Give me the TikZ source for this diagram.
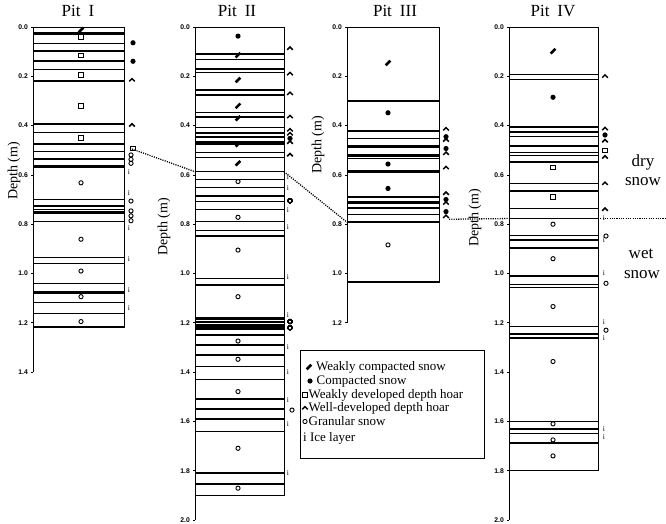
\documentclass[tikz,border=0pt]{standalone}
\usepackage{fontspec}
\setmainfont{Liberation Serif}
\newfontfamily\ticksans{Liberation Sans}
\newcounter{icec}
\newcommand\Ice[2]{\stepcounter{icec}\node[icest] (ice\arabic{icec}) at (#1,#2) {i};}
\begin{document}
\begin{tikzpicture}[x=1pt,y=-1pt,
  lay/.style={line width=1.5pt},
  thk/.style={line width=2.7pt},
  boxl/.style={line width=0.7pt},
  axl/.style={line width=0.7pt},
  dotl/.style={line width=1.3pt, dash pattern=on 1.1pt off 1.2pt},
  tick/.style={font=\ticksans\bfseries\fontsize{6.8}{7}\selectfont, inner sep=0pt, anchor=east},
  ttl/.style={font=\fontsize{17}{19}\selectfont, inner sep=0pt},
  dep/.style={font=\fontsize{14}{16}\selectfont, inner sep=0pt, rotate=90},
  icest/.style={font=\fontsize{7.5}{8}\selectfont, inner sep=0pt},
  leg/.style={font=\fontsize{13}{15}\selectfont, inner sep=0pt, anchor=west},
  big/.style={font=\fontsize{17}{19}\selectfont, inner sep=0pt},
  pwc/.pic={\fill[rotate=45] (-3.3pt,-1.3pt) rectangle (3.3pt,1.3pt);},
  pcs/.pic={\fill (0,0) circle (2.6pt);},
  pwd/.pic={\draw[line width=0.9pt] (-2.3pt,-2.3pt) rectangle (2.3pt,2.3pt);},
  pdh/.pic={\draw[line width=1.5pt] (-2.8pt,-1.4pt) -- (0,1.4pt) -- (2.8pt,-1.4pt);},
  pgs/.pic={\draw[line width=0.9pt] (0,0) circle (2.1pt);},
]
\fill[white] (0,0) rectangle (666,524);
\useasboundingbox (0,0) rectangle (666,524);

% ---------- Pit I ----------
\begin{scope}[shift={(33,27)}, y=-246.5pt]
\draw[axl] (0,0) -- (0,1.4);
\foreach \t [count=\k] in {0.0,0.2,0.4,0.6,0.8,1.0,1.2,1.4} {\draw[axl] (0,\t) -- (-2,\t); \node[tick] (pIt\k) at (-5,\t) {\t};}
\foreach \d in {0.066,0.097,0.138,0.172,0.219,0.427,0.475,0.506,0.535,0.700,0.740,0.790,0.936,0.959,1.040,1.118,1.162,1.218} \draw[lay] (0,\d) -- (91,\d);
\foreach \d in {0.026,0.393,0.567,0.726,0.753,1.078} \draw[thk] (0,\d) -- (91,\d);
\draw[boxl] (0,0) rectangle (91,1.218);
\pic at (48,0.012) {pwc};
\foreach \d in {0.040,0.116,0.195,0.320,0.449} \pic at (48,\d) {pwd};
\foreach \d in {0.632,0.861,0.990,1.094,1.195} \pic at (48,\d) {pgs};
\foreach \d in {0.064,0.139} \pic at (100,\d) {pcs};
\foreach \d in {0.215,0.398} \pic at (99,\d) {pdh};
\pic at (100,0.492) {pwd};
\foreach \d in {0.519,0.537,0.553,0.706,0.746,0.766,0.786} \pic at (98,\d) {pgs};
\foreach \d in {0.587,0.672,0.814,0.942,1.067,1.141} \Ice{96}{\d}
\coordinate (dIa) at (97,0.492);
\end{scope}

% ---------- Pit II ----------
\begin{scope}[shift={(195,27)}, y=-246.5pt]
\draw[axl] (0,0) -- (0,2.0);
\foreach \t [count=\k] in {0.0,0.2,0.4,0.6,0.8,1.0,1.2,1.4,1.6,1.8,2.0} {\draw[axl] (0,\t) -- (-2,\t); \node[tick] (pIIt\k) at (-5,\t) {\t};}
\foreach \d in {0.110,0.132,0.170,0.185,0.256,0.276,0.347,0.365,0.408,0.430,0.447,0.464,0.510,0.530,0.587,0.618,0.652,0.685,0.708,0.740,0.790,0.826,0.848,1.020,1.047,1.250,1.290,1.330,1.378,1.430,1.510,1.550,1.590,1.640,1.810,1.854,1.900} \draw[lay] (0,\d) -- (89,\d);
\foreach \d in {0.474,1.183,1.197,1.211,1.224} \draw[thk] (0,\d) -- (89,\d);
\draw[boxl] (0,0) rectangle (89,1.900);
\pic at (43,0.037) {pcs};
\foreach \d in {0.114,0.215,0.320,0.370,0.476,0.553} \pic at (43,\d) {pwc};
\foreach \d in {0.627,0.772,0.905,1.094,1.274,1.348,1.479,1.709,1.871} \pic at (43,\d) {pgs};
\foreach \d in {0.087,0.190,0.270,0.364,0.418,0.434,0.468,0.519} \pic at (95,\d) {pdh};
\pic at (95,0.452) {pcs};
\foreach \d in {0.607,0.655,0.742,0.810,1.013,1.168,1.300,1.400,1.513,1.610,1.810} \Ice{93}{\d}
\foreach \d in {0.705,1.195,1.220} \pic at (95,\d) {pgs};
\pic at (97,1.554) {pgs};
\coordinate (dIIa) at (0,0.587);
\coordinate (dIIb) at (89,0.587);
\end{scope}

% ---------- Pit III ----------
\begin{scope}[shift={(347,27)}, y=-246.5pt]
\draw[axl] (0,0) -- (0,1.2);
\foreach \t [count=\k] in {0.0,0.2,0.4,0.6,0.8,1.0,1.2} {\draw[axl] (0,\t) -- (-2,\t); \node[tick] (pIIIt\k) at (-5,\t) {\t};}
\foreach \d in {0.300,0.421,0.452,0.533,0.690,0.735,0.760,0.792,1.035} \draw[lay] (0,\d) -- (92,\d);
\foreach \d in {0.486,0.520,0.587,0.712} \draw[thk] (0,\d) -- (92,\d);
\draw[boxl] (0,0) rectangle (92,1.035);
\pic at (41,0.146) {pwc};
\foreach \d in {0.348,0.556,0.655} \pic at (41,\d) {pcs};
\pic at (41,0.884) {pgs};
\foreach \d in {0.414,0.459,0.513,0.571,0.675,0.715,0.769} \pic at (99,\d) {pdh};
\foreach \d in {0.445,0.493,0.700,0.749} \pic at (99,\d) {pcs};
\coordinate (dIIIa) at (0,0.792);
\coordinate (dIIIb) at (102,0.780);
\end{scope}

% ---------- Pit IV ----------
\begin{scope}[shift={(509,27)}, y=-246.5pt]
\draw[axl] (0,0) -- (0,2.0);
\foreach \t [count=\k] in {0.0,0.2,0.4,0.6,0.8,1.0,1.2,1.4,1.6,1.8,2.0} {\draw[axl] (0,\t) -- (-2,\t); \node[tick] (pIVt\k) at (-5,\t) {\t};}
\foreach \d in {0.192,0.213,0.405,0.425,0.445,0.482,0.509,0.522,0.547,0.635,0.665,0.737,0.777,0.845,0.865,0.896,1.010,1.045,1.057,1.216,1.245,1.262,1.600,1.630,1.650,1.688,1.800} \draw[lay] (0,\d) -- (89,\d);
\draw[boxl] (0,0) rectangle (89,1.800);
\pic at (44,0.098) {pwc};
\pic at (44,0.285) {pcs};
\foreach \d in {0.570,0.690} \pic at (44,\d) {pwd};
\foreach \d in {0.800,0.940,1.134,1.357,1.610,1.675,1.740} \pic at (44,\d) {pgs};
\foreach \d in {0.200,0.413,0.462,0.528,0.635,0.740} \pic at (96,\d) {pdh};
\pic at (96,0.438) {pcs};
\pic at (96,0.500) {pwd};
\foreach \d in {0.848,1.040,1.230} \pic at (97,\d) {pgs};
\foreach \d in {0.775,0.866,1.000,1.195,1.262,1.630,1.665} \Ice{95}{\d}
\coordinate (dIVa) at (0,0.777);
\coordinate (dIVb) at (89,0.777);
\coordinate (dEnd) at (157,0.777);
\end{scope}

% dry / wet boundary
\draw[dotl] (dIa) -- (dIIa);
\draw[dotl] (dIIb) -- (dIIIa);
\draw[dotl] (dIIIb) -- (dIVa);
\draw[dotl] (dIVb) -- (dEnd);

% titles
\node[ttl] (tI) at (78,11) {Pit\hspace{8pt}I};
\node[ttl] (tII) at (237,11) {Pit\hspace{8pt}II};
\node[ttl] (tIII) at (395,11) {Pit\hspace{8pt}III};
\node[ttl] (tIV) at (553,11) {Pit\hspace{8pt}IV};

% depth labels
\node[dep] (yI) at (14,171) {Depth (m)};
\node[dep] (yII) at (164,227) {Depth (m)};
\node[dep] (yIII) at (318,145) {Depth (m)};
\node[dep] (yIV) at (475,218) {Depth (m)};

% dry / wet labels
\node[big] (dry) at (643,162) {dry};
\node[big] (snow1) at (643,182) {snow};
\node[big] (wet) at (641,254) {wet};
\node[big] (snow2) at (642,275) {snow};

% legend
\draw[line width=0.8pt] (300,350) rectangle (484,458);
\pic at (309,367) {pwc};
\node[leg] (l1) at (316,367) {Weakly compacted snow};
\pic at (310,381) {pcs};
\node[leg] (l2) at (316.5,381) {Compacted snow};
\pic at (305,395) {pwd};
\node[leg] (l3) at (308.5,395) {Weakly developed depth hoar};
\pic at (305,408) {pdh};
\node[leg] (l4) at (308.5,408) {Well-developed depth hoar};
\pic at (305,421.5) {pgs};
\node[leg] (l5) at (308.5,421.5) {Granular snow};
\node[leg] (l6) at (303,438.5) {i Ice layer};
\end{tikzpicture}
\end{document}
